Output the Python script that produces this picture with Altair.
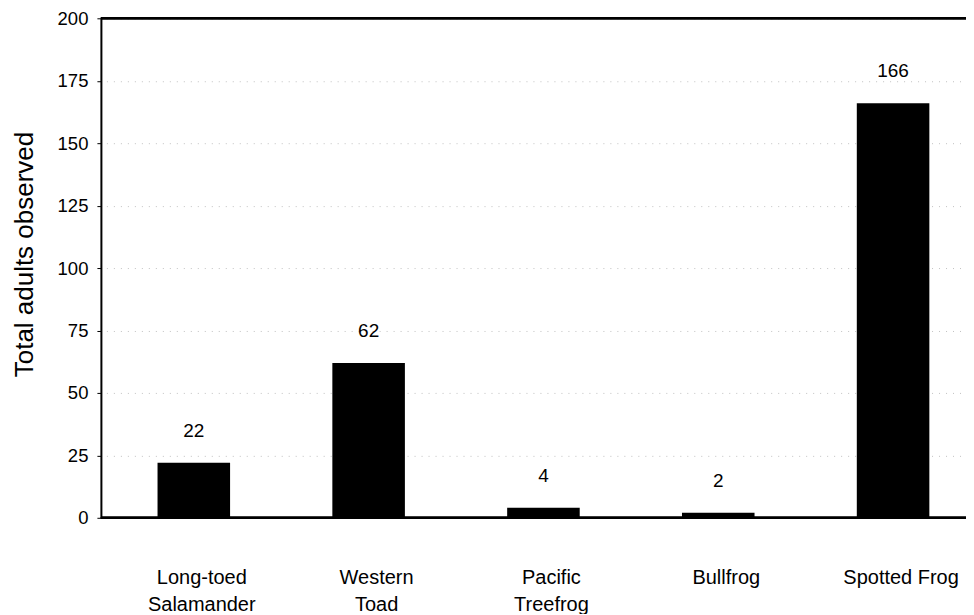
import altair as alt
import pandas as pd

species = ["Long-toed Salamander", "Western Toad", "Pacific Treefrog", "Bullfrog", "Spotted Frog"]
adults = [22, 62, 4, 2, 166]
y_ticks = [0, 25, 50, 75, 100, 125, 150, 175, 200]

df = pd.DataFrame({"species": species, "adults": adults})

FONT = "Liberation Sans"
W, H = 866, 500

x_enc = alt.X(
    "species:N",
    sort=species,
    scale=alt.Scale(range=[5.5, 880.5], paddingInner=0.585, paddingOuter=0.2925),
    axis=alt.Axis(
        title=None,
        labelAngle=0,
        ticks=False,
        domain=False,
        labelFontSize=20,
        labelFont=FONT,
        labelColor="black",
        labelPadding=50,
        labelLineHeight=27,
        labelOffset=8,
        labelExpr="datum.value == 'Spotted Frog' ? datum.value : split(datum.value, ' ')",
    ),
)

y_scale = alt.Scale(domain=[0, 200], nice=False)

bars = alt.Chart(df).mark_bar(color="black").encode(
    x=x_enc,
    y=alt.Y(
        "adults:Q",
        scale=y_scale,
        axis=alt.Axis(
            values=y_ticks,
            title="Total adults observed",
            titleFont=FONT,
            titleFontSize=26,
            titleFontWeight="normal",
            titleColor="black",
            titleX=-68,
            titleY=236,
            titleAngle=-90,
            titleAlign="center",
            titleBaseline="alphabetic",
            labelFont=FONT,
            labelFontSize=18.5,
            labelColor="black",
            labelPadding=9,
            tickSize=4,
            tickColor="black",
            domainColor="black",
            domainWidth=2,
            grid=True,
            gridColor="#a8a8a8",
            gridDash=[1, 6],
            gridWidth=1,
            gridOpacity=0.7,
        ),
    ),
)

labels = alt.Chart(df).mark_text(
    font=FONT, fontSize=19, color="black", baseline="alphabetic", dy=-26
).encode(
    x=alt.X("species:N", sort=species),
    y=alt.Y("adults:Q", scale=y_scale),
    text="adults:Q",
)

top_line = alt.Chart(df).mark_rule(color="black", strokeWidth=2).encode(
    y=alt.datum(200, scale=y_scale),
    x=alt.value(0),
    x2=alt.value(W + 10),
)

base_line = alt.Chart(df).mark_rule(color="black", strokeWidth=2).encode(
    y=alt.datum(0, scale=y_scale),
    x=alt.value(0),
    x2=alt.value(W + 10),
)

chart = (
    alt.layer(bars, labels, top_line, base_line)
    .properties(
        width=W,
        height=H,
        autosize=alt.AutoSizeParams(type="none"),
        padding={"left": 93, "top": 10, "right": 0, "bottom": 96},
        background="white",
    )
    .configure_view(stroke=None)
)

chart.save("out.html", embed_options={"renderer": "svg", "actions": False})
